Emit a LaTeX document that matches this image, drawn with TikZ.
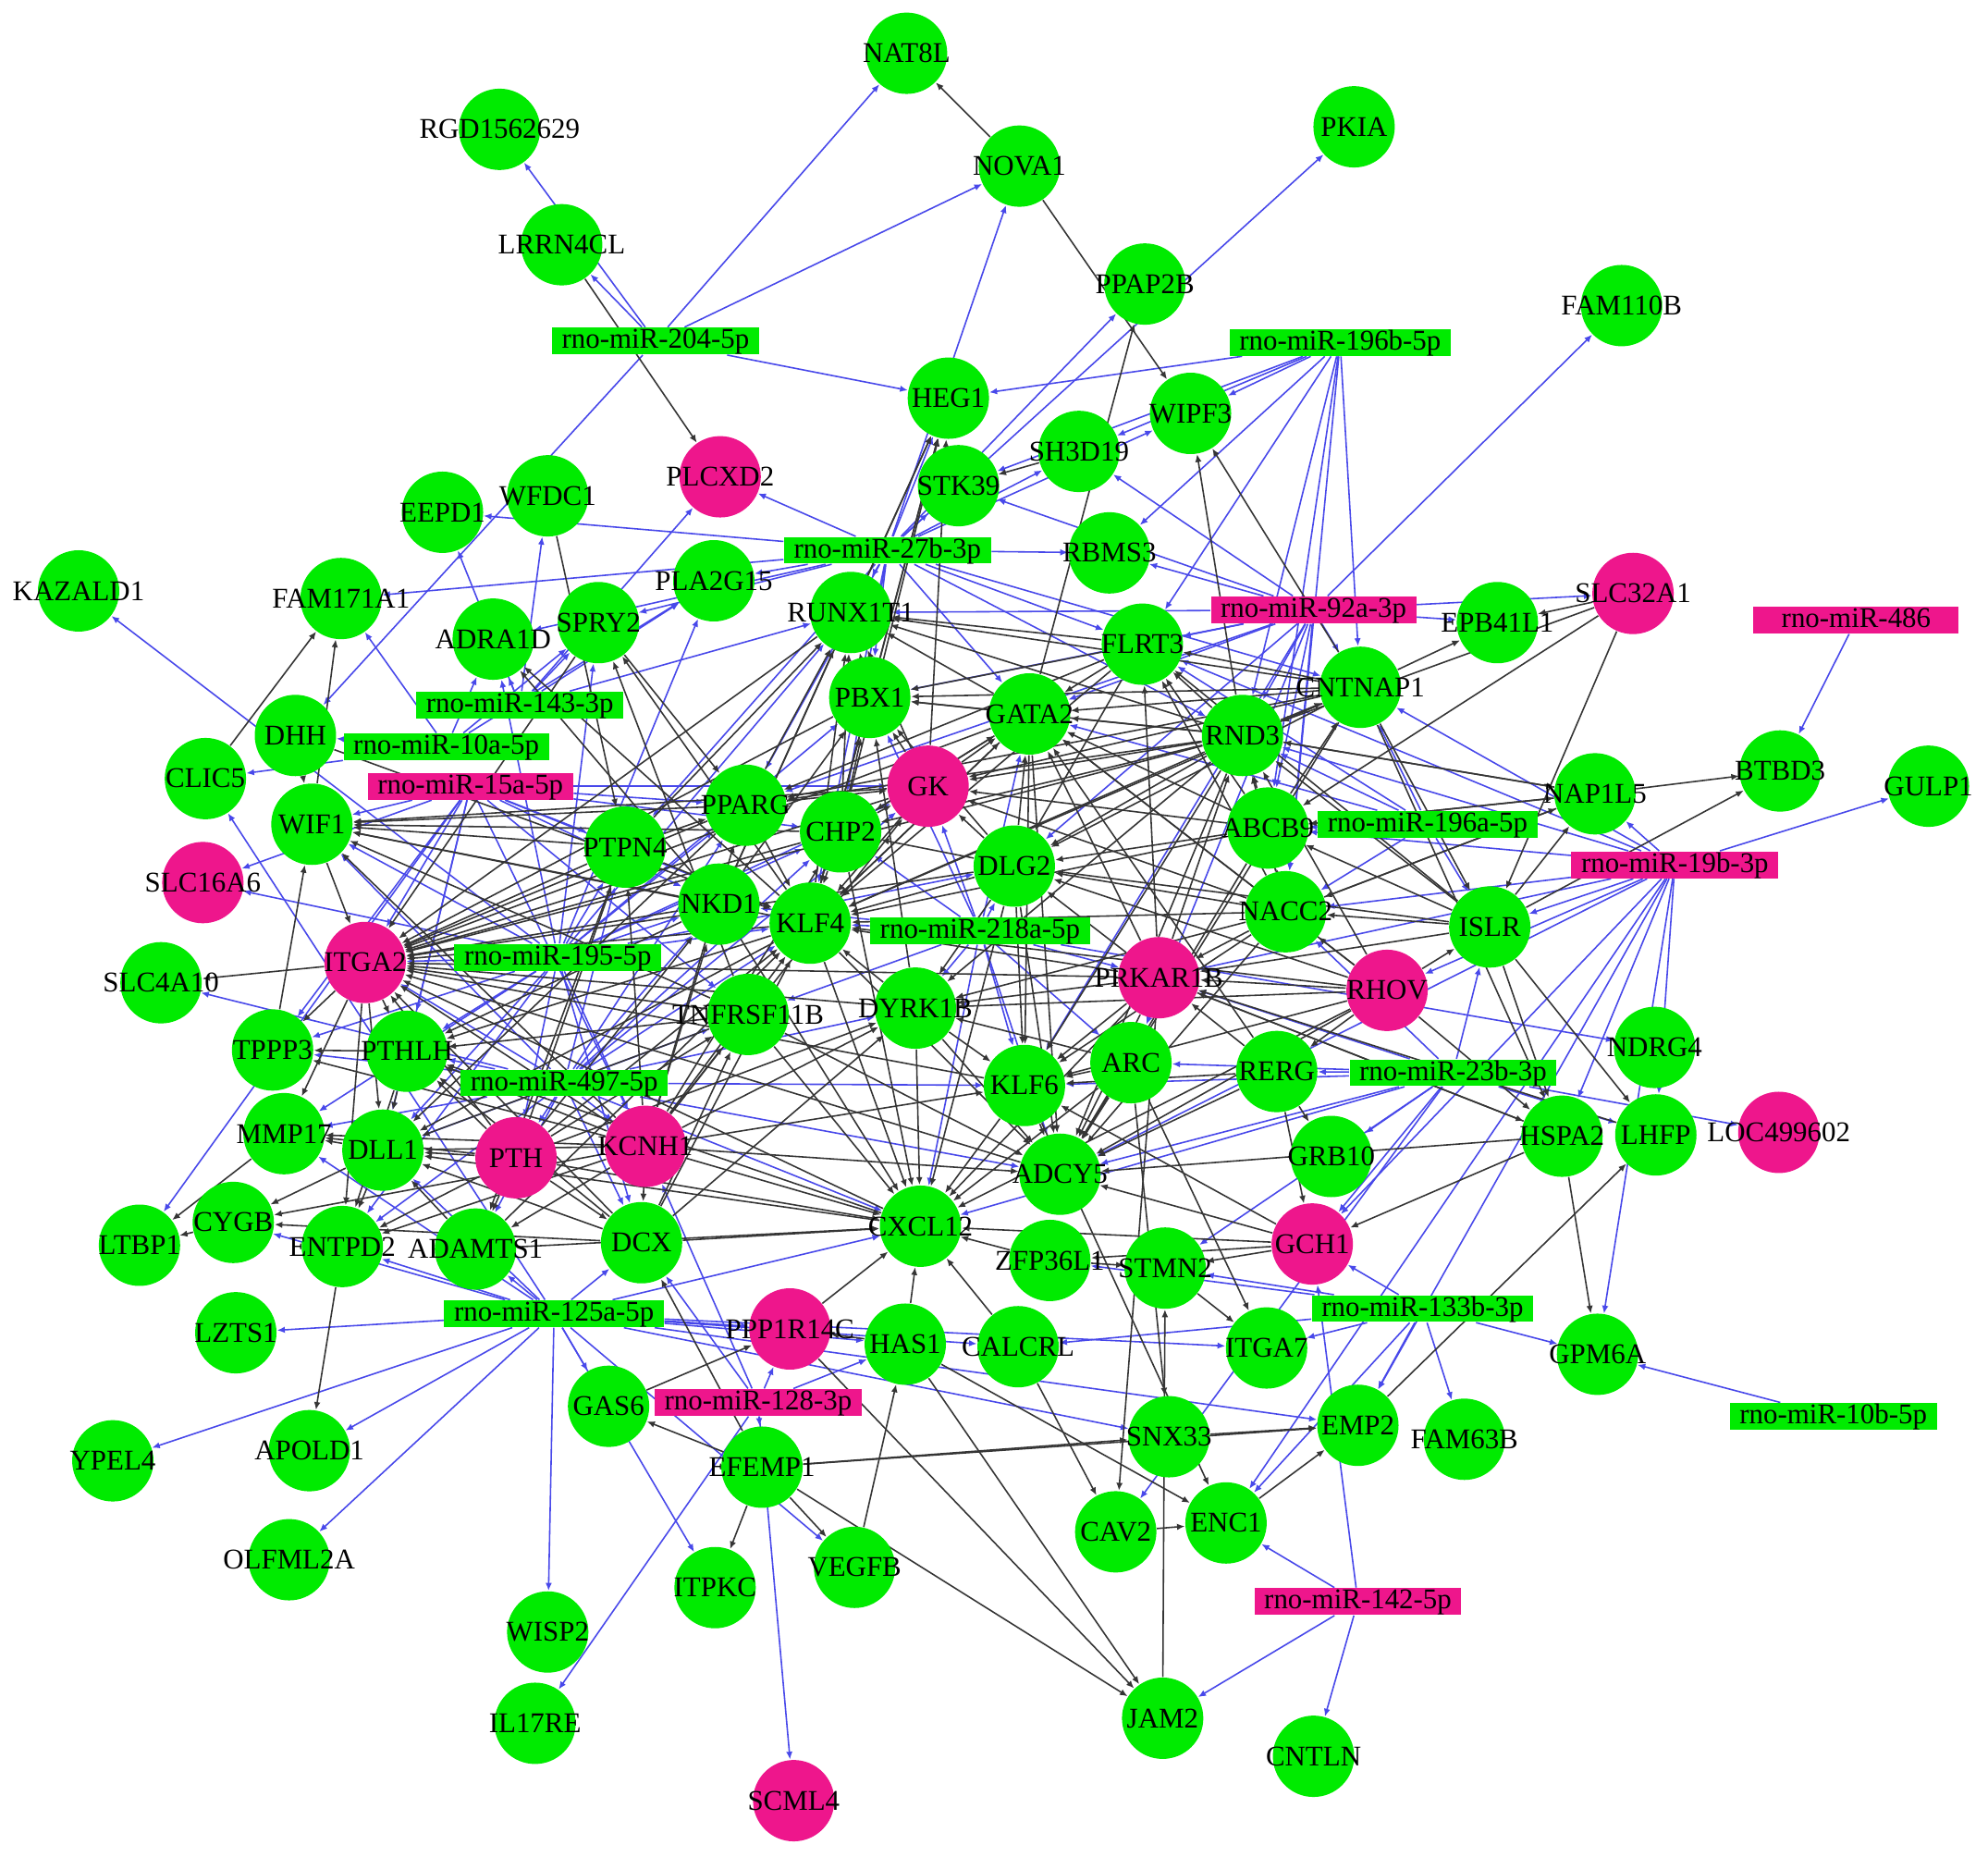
\documentclass[tikz,border=0pt]{standalone}
\usepackage{fontspec}
\setmainfont{Liberation Serif}
\usetikzlibrary{arrows.meta,backgrounds}
\definecolor{nodegreen}{HTML}{00EB00}
\definecolor{nodepink}{HTML}{EE168C}
\definecolor{edgeblue}{HTML}{4848EA}
\definecolor{edgegray}{HTML}{353535}
\newcommand{\gname}[1]{\makebox[0pt]{#1}}

\begin{document}
\begin{tikzpicture}[
  x=0.013712cm, y=-0.013712cm,
  every node/.style={font=\fontsize{8.8}{9}\selectfont},
  gnode/.style={circle, fill=nodegreen, minimum size=0.88cm, inner sep=0pt},
  pnode/.style={gnode, fill=nodepink},
  gmir/.style={rectangle, fill=nodegreen, inner xsep=3pt, inner ysep=0.8pt, text height=5.6pt, text depth=1pt},
  pmir/.style={gmir, fill=nodepink},
  arr/.style={-{Latex[length=2.4pt,width=2pt]}, edgegray, line width=0.45pt},
  marr/.style={-{Latex[length=2.4pt,width=2pt]}, edgeblue, line width=0.45pt},
]
  \useasboundingbox (0,0) rectangle (1568,1464);

  % Genes
  \node[gnode] (nat8l) at (715,42) {\gname{NAT8L}};
  \node[gnode] (rgd) at (394,102) {\gname{RGD1562629}};
  \node[gnode] (pkia) at (1068,100) {\gname{PKIA}};
  \node[gnode] (nova1) at (804,131) {\gname{NOVA1}};
  \node[gnode] (lrrn) at (443,193) {\gname{LRRN4CL}};
  \node[gnode] (ppap2b) at (903,224) {\gname{PPAP2B}};
  \node[gnode] (fam110b) at (1279,241) {\gname{FAM110B}};
  \node[gnode] (heg1) at (748,314) {\gname{HEG1}};
  \node[gnode] (wipf3) at (939,326) {\gname{WIPF3}};
  \node[pnode] (plcxd2) at (568,376) {\gname{PLCXD2}};
  \node[gnode] (sh3d19) at (851,356) {\gname{SH3D19}};
  \node[gnode] (stk39) at (756,383) {\gname{STK39}};
  \node[gnode] (wfdc1) at (432,391) {\gname{WFDC1}};
  \node[gnode] (eepd1) at (349,404) {\gname{EEPD1}};
  \node[gnode] (rbms3) at (875,436) {\gname{RBMS3}};
  \node[gnode] (kazald1) at (62,466) {\gname{KAZALD1}};
  \node[gnode] (fam171) at (269,472) {\gname{FAM171A1}};
  \node[gnode] (pla2g15) at (563,458) {\gname{PLA2G15}};
  \node[gnode] (runx1t1) at (671,483) {\gname{RUNX1T1}};
  \node[gnode] (spry2) at (472,491) {\gname{SPRY2}};
  \node[gnode] (adra1d) at (389,504) {\gname{ADRA1D}};
  \node[pnode] (slc32a1) at (1288,468) {\gname{SLC32A1}};
  \node[gnode] (epb41l1) at (1181,491) {\gname{EPB41L1}};
  \node[gnode] (flrt3) at (901,508) {\gname{FLRT3}};
  \node[gnode] (cntnap1) at (1073,542) {\gname{CNTNAP1}};
  \node[gnode] (pbx1) at (686,550) {\gname{PBX1}};
  \node[gnode] (gata2) at (812,563) {\gname{GATA2}};
  \node[gnode] (dhh) at (233,580) {\gname{DHH}};
  \node[gnode] (clic5) at (162,614) {\gname{CLIC5}};
  \node[gnode] (rnd3) at (980,580) {\gname{RND3}};
  \node[gnode] (btbd3) at (1404,608) {\gname{BTBD3}};
  \node[gnode] (gulp1) at (1521,620) {\gname{GULP1}};
  \node[pnode] (gk) at (732,620) {\gname{GK}};
  \node[gnode] (pparg) at (588,635) {\gname{PPARG}};
  \node[gnode] (wif1) at (246,650) {\gname{WIF1}};
  \node[gnode] (nap1l5) at (1258,626) {\gname{NAP1L5}};
  \node[gnode] (chp2) at (663,656) {\gname{CHP2}};
  \node[gnode] (abcb9) at (1000,653) {\gname{ABCB9}};
  \node[gnode] (ptpn4) at (493,668) {\gname{PTPN4}};
  \node[gnode] (dlg2) at (800,683) {\gname{DLG2}};
  \node[pnode] (slc16a6) at (160,696) {\gname{SLC16A6}};
  \node[gnode] (nkd1) at (567,713) {\gname{NKD1}};
  \node[gnode] (klf4) at (639,728) {\gname{KLF4}};
  \node[gnode] (nacc2) at (1014,719) {\gname{NACC2}};
  \node[gnode] (islr) at (1175,731) {\gname{ISLR}};
  \node[pnode] (itga2) at (288,759) {\gname{ITGA2}};
  \node[pnode] (prkar1b) at (914,771) {\gname{PRKAR1B}};
  \node[pnode] (rhov) at (1094,781) {\gname{RHOV}};
  \node[gnode] (slc4a10) at (127,775) {\gname{SLC4A10}};
  \node[gnode] (dyrk1b) at (722,795) {\gname{DYRK1B}};
  \node[gnode] (tnfrsf) at (590,800) {\gname{TNFRSF11B}};
  \node[gnode] (tppp3) at (215,828) {\gname{TPPP3}};
  \node[gnode] (pthlh) at (321,829) {\gname{PTHLH}};
  \node[gnode] (ndrg4) at (1305,826) {\gname{NDRG4}};
  \node[gnode] (arc) at (892,838) {\gname{ARC}};
  \node[gnode] (klf6) at (808,856) {\gname{KLF6}};
  \node[gnode] (rerg) at (1007,845) {\gname{RERG}};
  \node[gnode] (mmp17) at (224,894) {\gname{MMP17}};
  \node[gnode] (dll1) at (302,907) {\gname{DLL1}};
  \node[pnode] (pth) at (407,913) {\gname{PTH}};
  \node[pnode] (kcnh1) at (509,904) {\gname{KCNH1}};
  \node[pnode] (loc) at (1403,893) {\gname{LOC499602}};
  \node[gnode] (hspa2) at (1232,896) {\gname{HSPA2}};
  \node[gnode] (lhfp) at (1306,895) {\gname{LHFP}};
  \node[gnode] (grb10) at (1050,912) {\gname{GRB10}};
  \node[gnode] (adcy5) at (836,926) {\gname{ADCY5}};
  \node[gnode] (cygb) at (184,964) {\gname{CYGB}};
  \node[gnode] (ltbp1) at (110,982) {\gname{LTBP1}};
  \node[gnode] (entpd2) at (270,983) {\gname{ENTPD2}};
  \node[gnode] (adamts1) at (375,985) {\gname{ADAMTS1}};
  \node[gnode] (dcx) at (506,980) {\gname{DCX}};
  \node[gnode] (cxcl12) at (726,967) {\gname{CXCL12}};
  \node[pnode] (gch1) at (1035,981) {\gname{GCH1}};
  \node[gnode] (zfp36l1) at (828,994) {\gname{ZFP36L1}};
  \node[gnode] (stmn2) at (919,1000) {\gname{STMN2}};
  \node[pnode] (ppp1r14c) at (623,1048) {\gname{PPP1R14C}};
  \node[gnode] (lzts1) at (186,1051) {\gname{LZTS1}};
  \node[gnode] (has1) at (714,1060) {\gname{HAS1}};
  \node[gnode] (calcrl) at (803,1062) {\gname{CALCRL}};
  \node[gnode] (itga7) at (999,1063) {\gname{ITGA7}};
  \node[gnode] (gpm6a) at (1260,1068) {\gname{GPM6A}};
  \node[gnode] (gas6) at (480,1109) {\gname{GAS6}};
  \node[gnode] (ypel4) at (89,1152) {\gname{YPEL4}};
  \node[gnode] (apold1) at (244,1144) {\gname{APOLD1}};
  \node[gnode] (efemp1) at (601,1157) {\gname{EFEMP1}};
  \node[gnode] (snx33) at (922,1133) {\gname{SNX33}};
  \node[gnode] (emp2) at (1071,1124) {\gname{EMP2}};
  \node[gnode] (fam63b) at (1155,1135) {\gname{FAM63B}};
  \node[gnode] (cav2) at (880,1208) {\gname{CAV2}};
  \node[gnode] (enc1) at (967,1201) {\gname{ENC1}};
  \node[gnode] (olfml2a) at (228,1230) {\gname{OLFML2A}};
  \node[gnode] (vegfb) at (674,1236) {\gname{VEGFB}};
  \node[gnode] (itpkc) at (564,1252) {\gname{ITPKC}};
  \node[gnode] (wisp2) at (432,1287) {\gname{WISP2}};
  \node[gnode] (il17re) at (422,1359) {\gname{IL17RE}};
  \node[gnode] (jam2) at (917,1355) {\gname{JAM2}};
  \node[gnode] (cntln) at (1036,1385) {\gname{CNTLN}};
  \node[pnode] (scml4) at (626,1420) {\gname{SCML4}};

  % miRNAs
  \node[gmir] (m204) at (517,269) {rno-miR-204-5p};
  \node[gmir] (m196b) at (1057,270) {rno-miR-196b-5p};
  \node[gmir] (m27b) at (700,434) {rno-miR-27b-3p};
  \node[pmir] (m92a) at (1036,481) {rno-miR-92a-3p};
  \node[pmir, minimum width=2.22cm] (m486) at (1464,489) {rno-miR-486};
  \node[gmir] (m143) at (410,556) {rno-miR-143-3p};
  \node[gmir] (m10a) at (352,589) {rno-miR-10a-5p};
  \node[pmir] (m15a) at (371,620) {rno-miR-15a-5p};
  \node[gmir] (m196a) at (1126,650) {rno-miR-196a-5p};
  \node[pmir] (m19b) at (1321,682) {rno-miR-19b-3p};
  \node[gmir] (m218a) at (773,734) {rno-miR-218a-5p};
  \node[gmir] (m195) at (440,755) {rno-miR-195-5p};
  \node[gmir] (m497) at (445,854) {rno-miR-497-5p};
  \node[gmir] (m23b) at (1146,846) {rno-miR-23b-3p};
  \node[gmir] (m133b) at (1122,1032) {rno-miR-133b-3p};
  \node[gmir] (m125a) at (437,1036) {rno-miR-125a-5p};
  \node[pmir] (m128) at (598,1106) {rno-miR-128-3p};
  \node[gmir] (m10b) at (1446,1117) {rno-miR-10b-5p};
  \node[pmir] (m142) at (1071,1263) {rno-miR-142-5p};

  \begin{pgfonlayer}{background}
  \fill[white] (0,0) rectangle (1568,1464);
  \end{pgfonlayer}

  \begin{pgfonlayer}{background}
  % miRNA targets
  \foreach \t in {nat8l,nova1,heg1,lrrn,rgd,dhh}
    \draw[marr] (m204) -- (\t);
  \foreach \t in {heg1,stk39,sh3d19,plcxd2,pla2g15,runx1t1,spry2,eepd1,pkia,rbms3,flrt3,rnd3,cntnap1,fam171,adra1d,pbx1,gata2,klf4,wipf3,nova1,ppap2b,pparg,chp2,ptpn4}
    \draw[marr] (m27b) -- (\t);
  \foreach \t in {wipf3,heg1,stk39,sh3d19,rbms3,cntnap1,rnd3,abcb9,flrt3,nacc2}
    \draw[marr] (m196b) -- (\t);
  \foreach \t in {fam110b,slc32a1,epb41l1,flrt3,rbms3,sh3d19,stk39,gata2,rnd3,cntnap1,abcb9,nacc2,runx1t1,pbx1,klf6,dlg2,pparg,arc}
    \draw[marr] (m92a) -- (\t);
  \draw[marr] (m486) -- (btbd3);
  \foreach \t in {adra1d,eepd1,wfdc1,spry2,pla2g15,runx1t1,plcxd2}
    \draw[marr] (m143) -- (\t);
  \foreach \t in {dhh,clic5,adra1d,spry2,pla2g15,fam171}
    \draw[marr] (m10a) -- (\t);
  \foreach \t in {wif1,ptpn4,itga2,pparg,klf4,nkd1,ltbp1,pthlh,tppp3,dll1,slc16a6,chp2,gk,tnfrsf,kcnh1}
    \draw[marr] (m15a) -- (\t);
  \foreach \t in {abcb9,cntnap1,rnd3,nacc2,islr,gata2,flrt3}
    \draw[marr] (m196a) -- (\t);
  \foreach \t in {gulp1,nap1l5,islr,rhov,hspa2,lhfp,gpm6a,emp2,enc1,nacc2,prkar1b,abcb9,gch1,adcy5,rnd3,cntnap1,flrt3}
    \draw[marr] (m19b) -- (\t);
  \foreach \t in {klf4,chp2,dlg2,dyrk1b,prkar1b,klf6,arc,gata2,pbx1,gk,ndrg4,nkd1,tnfrsf,cxcl12,adcy5}
    \draw[marr] (m218a) -- (\t);
  \foreach \t in {itga2,kazald1,slc16a6,wif1,ptpn4,nkd1,pthlh,tppp3,dll1,klf4,pparg,runx1t1,pla2g15,spry2,adra1d,gk,chp2,dlg2,pbx1,kcnh1,pth,dcx,mmp17,entpd2}
    \draw[marr] (m195) -- (\t);
  \foreach \t in {pthlh,dll1,tppp3,mmp17,itga2,wif1,pth,kcnh1,tnfrsf,nkd1,slc4a10,ptpn4,cxcl12,dcx,klf4,dyrk1b,pparg,chp2,gk,entpd2,adamts1,klf6,adcy5}
    \draw[marr] (m497) -- (\t);
  \foreach \t in {grb10,lhfp,loc,adcy5,arc,klf6,gch1,islr,stmn2,rerg,prkar1b,nacc2,cxcl12,cav2}
    \draw[marr] (m23b) -- (\t);
  \foreach \t in {fam63b,gpm6a,emp2,enc1,gch1,stmn2,zfp36l1,calcrl,itga7}
    \draw[marr] (m133b) -- (\t);
  \draw[marr] (m10b) -- (gpm6a);
  \foreach \t in {scml4,ppp1r14c,efemp1,il17re,has1,dcx,kcnh1}
    \draw[marr] (m128) -- (\t);
  \foreach \t in {cntln,jam2,gch1,enc1}
    \draw[marr] (m142) -- (\t);
  \foreach \t in {lzts1,ypel4,apold1,olfml2a,wisp2,gas6,entpd2,adamts1,dcx,ppp1r14c,has1,calcrl,itga7,snx33,emp2,cxcl12,dll1,mmp17,cygb,clic5,itpkc,vegfb}
    \draw[marr] (m125a) -- (\t);

  % gene-gene links
  \foreach \s/\t in {nova1/nat8l,nova1/wipf3,lrrn/plcxd2,gata2/ppap2b,sh3d19/stk39,rnd3/wipf3,
      cntnap1/wipf3,wfdc1/ptpn4,nkd1/adra1d,klf4/adra1d,klf4/spry2,tnfrsf/spry2,
      dhh/wif1,dhh/klf4,clic5/fam171,wif1/fam171,tppp3/wif1,
      cntnap1/epb41l1,slc32a1/epb41l1,slc32a1/rnd3,slc32a1/abcb9,slc32a1/islr,cntnap1/islr,
      rnd3/cntnap1,abcb9/cntnap1,nap1l5/btbd3,islr/btbd3,islr/lhfp,islr/hspa2,
      rhov/islr,rhov/rerg,rhov/nacc2,islr/nacc2,nap1l5/nacc2,nap1l5/abcb9,islr/abcb9,nacc2/abcb9,
      islr/nap1l5,rnd3/nap1l5,abcb9/nap1l5,nacc2/nap1l5,
      itga2/slc4a10,itga2/tppp3,itga2/pthlh,itga2/dll1,itga2/mmp17,itga2/entpd2,
      kcnh1/cygb,dcx/cygb,dll1/cygb,cygb/ltbp1,mmp17/ltbp1,entpd2/apold1,
      dll1/mmp17,pth/mmp17,kcnh1/mmp17,dll1/entpd2,pth/entpd2,kcnh1/entpd2,pthlh/entpd2,
      pth/adamts1,kcnh1/adamts1,ptpn4/adamts1,kcnh1/dcx,pth/dcx,efemp1/dcx,
      kcnh1/tnfrsf,kcnh1/nkd1,kcnh1/ptpn4,kcnh1/pparg,kcnh1/dyrk1b,kcnh1/chp2,kcnh1/gk,kcnh1/klf6,kcnh1/adcy5,
      pth/tnfrsf,pth/nkd1,pth/ptpn4,pth/klf4,pth/dyrk1b,dcx/klf4,dcx/tnfrsf,dcx/dyrk1b,adamts1/klf4,
      hspa2/gpm6a,hspa2/gch1,emp2/lhfp,snx33/emp2,enc1/emp2,cav2/enc1,jam2/stmn2,
      ppp1r14c/jam2,efemp1/jam2,has1/jam2,has1/enc1,calcrl/cav2,vegfb/has1,efemp1/vegfb,
      efemp1/itpkc,efemp1/gas6,efemp1/snx33,efemp1/emp2,gas6/ppp1r14c,has1/ppp1r14c,
      stmn2/itga7,zfp36l1/stmn2,gch1/zfp36l1,gch1/stmn2,rerg/grb10,rerg/gch1,arc/itga7,
      klf6/enc1,prkar1b/cav2,arc/snx33,prkar1b/hspa2,rhov/hspa2,cntnap1/hspa2,hspa2/adcy5}
    \draw[arr] (\s) -- (\t);
  \foreach \s in {runx1t1,pbx1,chp2,klf4,nkd1,gk}
    \draw[arr] (\s) -- (heg1);
  \foreach \s in {flrt3,gata2,rnd3,cntnap1,gk,chp2,pparg,pbx1,ptpn4,nkd1,klf4}
    \draw[arr] (\s) -- (runx1t1);
  \foreach \s in {gata2,gk,chp2,dlg2,rnd3,cntnap1,flrt3,klf4,dyrk1b,nkd1}
    \draw[arr] (\s) -- (pbx1);
  \foreach \s in {rnd3,cntnap1,flrt3,abcb9,nacc2,dlg2,gk,prkar1b,rhov,rerg,chp2,klf4}
    \draw[arr] (\s) -- (gata2);
  \foreach \s in {rnd3,abcb9,nacc2,cntnap1,islr,prkar1b}
    \draw[arr] (\s) -- (flrt3);
  \foreach \s in {abcb9,nacc2,islr,prkar1b,rhov,nap1l5}
    \draw[arr] (\s) -- (rnd3);
  \foreach \s in {rnd3,cntnap1,abcb9,nacc2,dlg2,chp2,pparg}
    \draw[arr] (\s) -- (gk);
  \foreach \s in {rnd3,cntnap1,flrt3,ptpn4,spry2}
    \draw[arr] (\s) -- (pparg);
  \foreach \s in {dlg2,gata2,rnd3}
    \draw[arr] (\s) -- (chp2);
  \foreach \s in {rnd3,cntnap1,abcb9,nacc2,prkar1b,islr,rhov,flrt3}
    \draw[arr] (\s) -- (dlg2);
  \foreach \s in {pbx1,gata2,gk,chp2,dlg2,pparg,ptpn4,prkar1b,rnd3,nacc2,abcb9,cntnap1,flrt3,kcnh1,dyrk1b,rhov}
    \draw[arr] (\s) -- (klf4);
  \foreach \s in {pparg,ptpn4,nkd1,klf4,tnfrsf,chp2,gk,dyrk1b,pbx1,runx1t1,kcnh1,pth,dcx,cxcl12,klf6,gata2,dlg2,prkar1b,adcy5,wif1,rnd3,spry2}
    \draw[arr] (\s) -- (itga2);
  \foreach \s in {pparg,ptpn4,nkd1,klf4,chp2,tnfrsf,gk,kcnh1}
    \draw[arr] (\s) -- (wif1);
  \foreach \s in {kcnh1,nkd1,klf4,pth,dcx,cxcl12,tnfrsf}
    \draw[arr] (\s) -- (pthlh);
  \foreach \s in {pth,kcnh1,dcx,cxcl12,klf4,pparg,tnfrsf,adamts1,pthlh}
    \draw[arr] (\s) -- (dll1);
  \foreach \s in {pthlh,kcnh1}
    \draw[arr] (\s) -- (tppp3);
  \foreach \s in {kcnh1,dcx,adamts1,pth,klf4,tnfrsf,dyrk1b,klf6,arc,gch1,prkar1b,rhov,has1,calcrl,ppp1r14c,nkd1,chp2,dlg2,zfp36l1}
    \draw[arr] (\s) -- (cxcl12);
  \foreach \s in {klf6,arc,dyrk1b,prkar1b,rhov,rerg,gch1,rnd3,gata2,dlg2,klf4,nacc2,abcb9,cntnap1,tnfrsf}
    \draw[arr] (\s) -- (adcy5);
  \foreach \s in {prkar1b,arc,rerg,rhov,dlg2,gata2,rnd3,nacc2,dyrk1b,gch1}
    \draw[arr] (\s) -- (klf6);
  \foreach \s in {prkar1b,rhov,rnd3,arc,nacc2,dlg2}
    \draw[arr] (\s) -- (dyrk1b);
  \foreach \s in {rhov,islr,nacc2,rerg,hspa2,lhfp}
    \draw[arr] (\s) -- (prkar1b);
  \end{pgfonlayer}
\end{tikzpicture}
\end{document}
